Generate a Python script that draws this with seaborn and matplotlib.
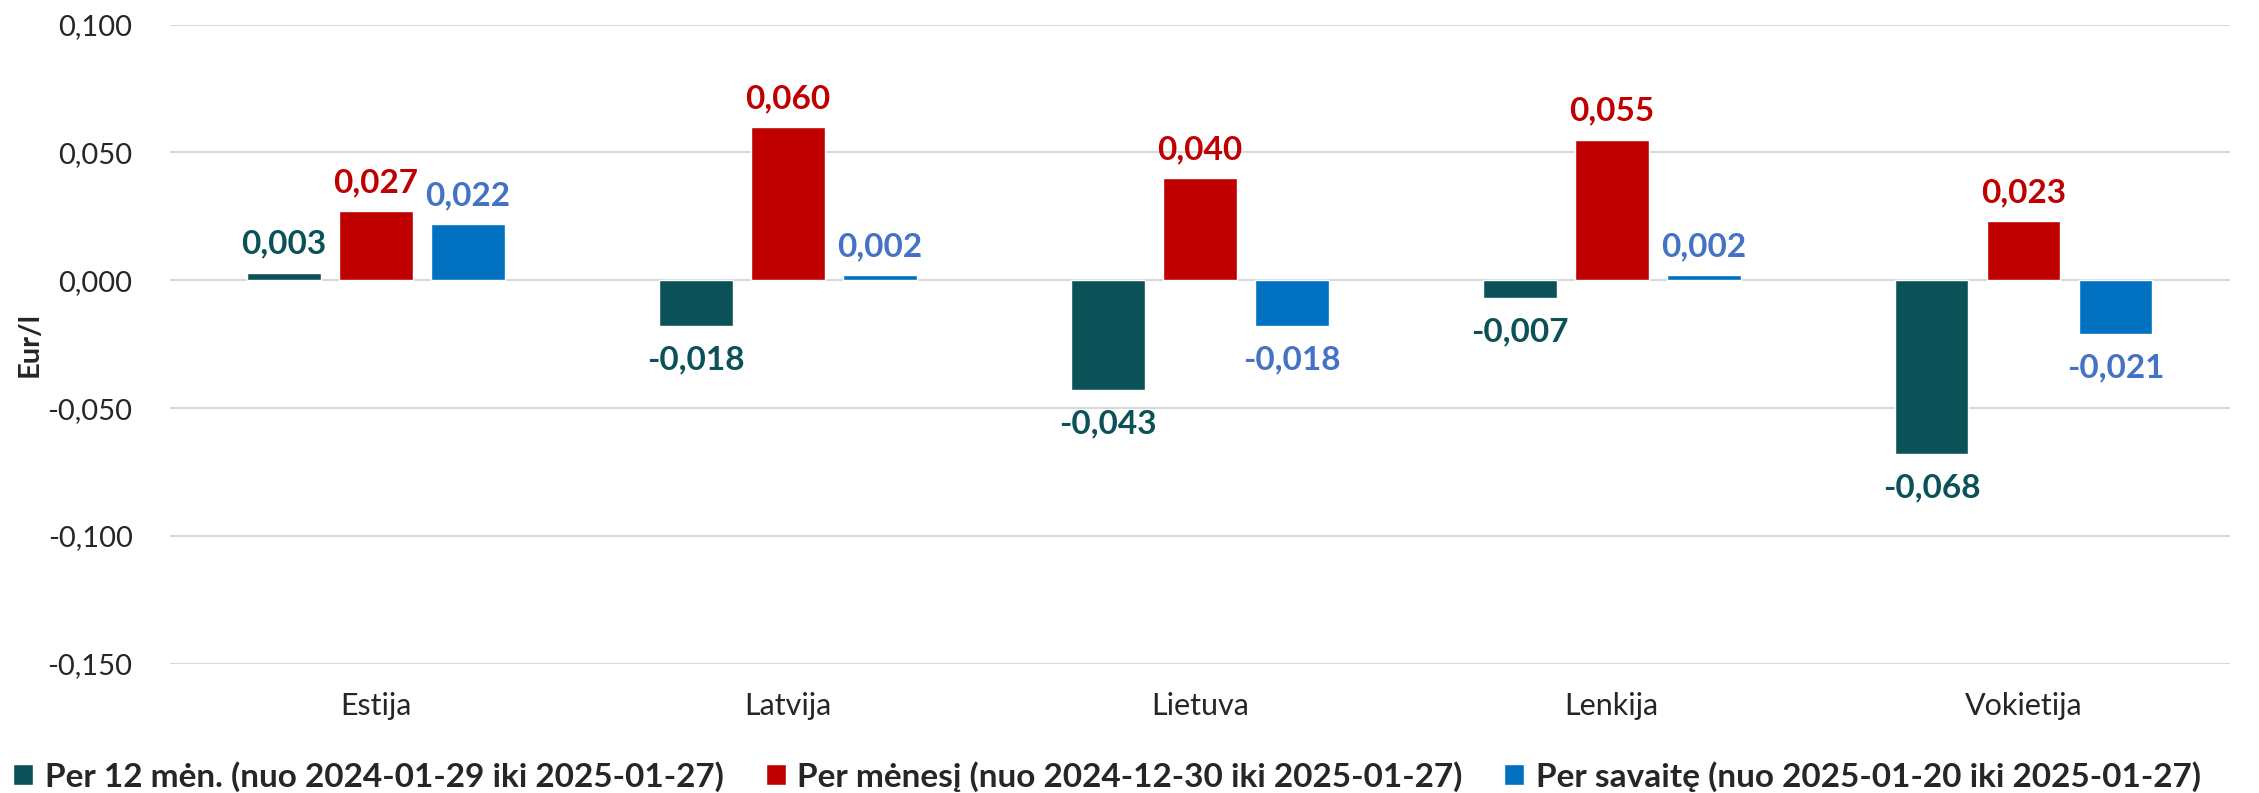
import pandas as pd
import matplotlib.pyplot as plt
import seaborn as sns
from matplotlib.ticker import FuncFormatter
from matplotlib.patches import Patch

countries = ['Estija', 'Latvija', 'Lietuva', 'Lenkija', 'Vokietija']
series = ['Per 12 mėn. (nuo 2024-01-29 iki 2025-01-27)',
          'Per mėnesį (nuo 2024-12-30 iki 2025-01-27)',
          'Per savaitę (nuo 2025-01-20 iki 2025-01-27)']
year_vals = [0.003, -0.018, -0.043, -0.007, -0.068]
month_vals = [0.027, 0.060, 0.040, 0.055, 0.023]
week_vals = [0.022, 0.002, -0.018, 0.002, -0.021]

bar_colors = ['#0B5258', '#C00000', '#0070C0']
label_colors = ['#0B5258', '#C00000', '#4472C4']

rows = []
for name, vals in zip(series, [year_vals, month_vals, week_vals]):
    for c, v in zip(countries, vals):
        rows.append({'Šalis': c, 'Serija': name, 'Eur/l': v})
df = pd.DataFrame(rows)

sns.set_style('white')
plt.rcParams['font.family'] = ['Lato', 'DejaVu Sans']

fig = plt.figure(figsize=(22.59, 7.93), dpi=100)
ax = fig.add_axes([0.0753, 0.163, 0.9117, 0.806])

sns.barplot(data=df, x='Šalis', y='Eur/l', hue='Serija', order=countries,
            hue_order=series, palette=bar_colors, width=0.67, gap=0.2,
            saturation=1, legend=False, ax=ax)


def fmt(v):
    return f"{v:.3f}".replace('.', ',')


# labels above positive bars and below negative ones, different padding
for cont, col in zip(ax.containers, label_colors):
    pos = [fmt(b.get_height()) if b.get_height() >= 0 else '' for b in cont]
    neg = [fmt(b.get_height()) if b.get_height() < 0 else '' for b in cont]
    ax.bar_label(cont, labels=pos, color=col, fontsize=24,
                 fontweight='bold', padding=10)
    ax.bar_label(cont, labels=neg, color=col, fontsize=24,
                 fontweight='bold', padding=14)

ax.set_ylim(-0.15, 0.10)
ax.set_yticks([0.10, 0.05, 0.0, -0.05, -0.10, -0.15])
ax.yaxis.set_major_formatter(FuncFormatter(
    lambda v, p: f"{round(v, 3) + 0.0:.3f}".replace('.', ',')))
ax.grid(axis='y', color='#D9D9D9', linewidth=1.5)
ax.set_axisbelow(True)
sns.despine(ax=ax, left=True, bottom=True)
ax.tick_params(axis='both', length=0)
ax.tick_params(axis='y', labelsize=21, pad=27)
ax.tick_params(axis='x', labelsize=22, pad=20)
ax.set_xlabel('')
ax.set_ylabel('Eur/l', fontsize=21, fontweight='bold')
ax.yaxis.set_label_coords(-0.062, 0.5)
ax.set_xlim(-0.5, 4.5)

handles = [Patch(facecolor=c) for c in bar_colors]
fig.legend(handles, series, loc='lower left', bbox_to_anchor=(0.0, -0.015),
           ncol=3, frameon=False, prop={'size': 24, 'weight': 'bold'},
           handlelength=0.6, handleheight=0.6, handletextpad=0.35,
           columnspacing=1.25, borderaxespad=0.1, borderpad=0.3)

fig.savefig('out.png', dpi=100)
